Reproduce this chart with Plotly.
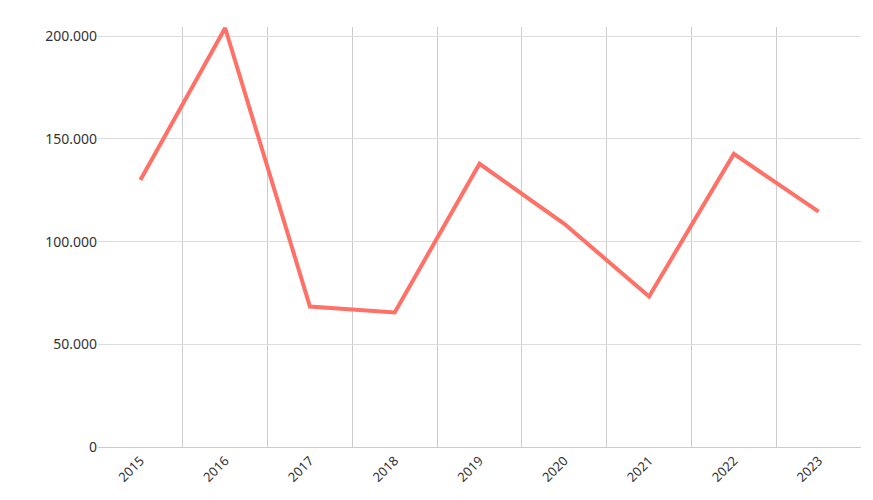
import plotly.graph_objects as go

years = ["2015","2016","2017","2018","2019","2020","2021","2022","2023"]
values = [130000, 204000, 68400, 65500, 137900, 108700, 73300, 142700, 114600]

xs = list(range(len(years)))
fig = go.Figure(go.Scatter(x=xs, y=values, mode="lines",
                           line=dict(color="#FF7066", width=4), hoverinfo="y"))
fig.update_layout(
    width=873, height=500, margin=dict(l=90, r=20, t=19, b=61, autoexpand=False),
    plot_bgcolor="white", paper_bgcolor="white", separators=",.",
    font=dict(family="Noto Sans", size=13, color="#333"), showlegend=False,
)
fig.update_xaxes(range=[-0.5, len(years)-0.5], tickmode="array", tickvals=xs, ticktext=years,
                 tickangle=-45, showgrid=False, showline=True, linecolor="#ccc", automargin=False,
                 minor=dict(tickmode="array", tickvals=[i-0.5 for i in range(len(years)+1)],
                            showgrid=True, gridcolor="#ccc", gridwidth=1), zeroline=False)
fig.update_yaxes(range=[0, 204500], tickvals=[0,50000,100000,150000,200000], tickformat=",d",
                 gridcolor="#ddd", zeroline=False, showline=False, automargin=False,
                 tickfont=dict(size=14))
fig.write_html("out.html")
